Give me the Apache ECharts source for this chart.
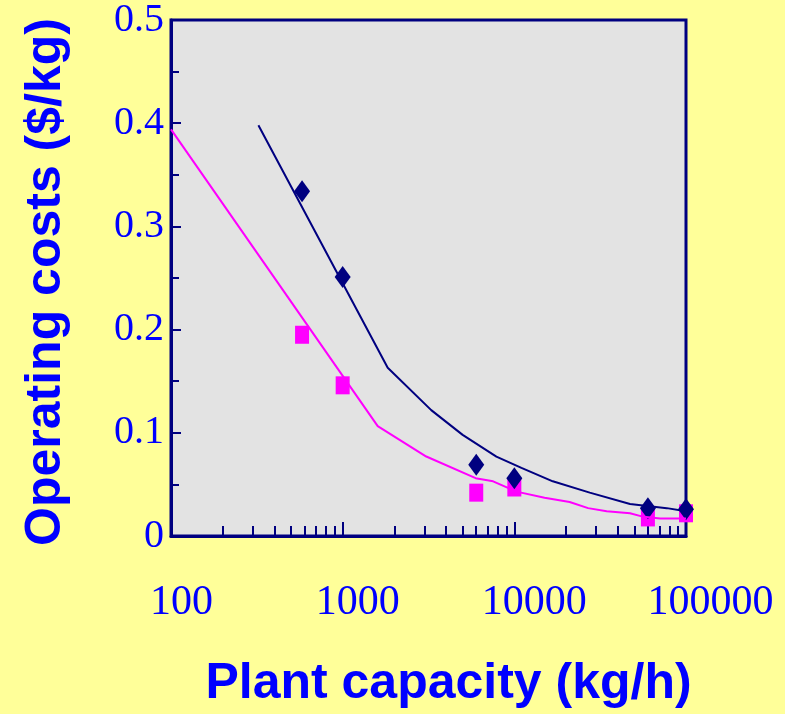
<!DOCTYPE html>
<html lang="en">
<head>
    <meta charset="UTF-8">
    <title>Operating costs</title>
    <script src="https://cdn.jsdelivr.net/npm/echarts@6/dist/echarts.min.js"></script>
    <style>
        *{
            margin: 0;
            padding: 0;
        }
        body{
            background-color: #FFFF99;
            overflow: hidden;
        }
        #main{
            width: 785px;
            height: 714px;
        }
    </style>
</head>
<body>
<div id="main"></div>
<script>
    // measured points (kg/h vs $/kg)
    var capacity = [580, 1000, 6000, 10000, 60000, 100000];
    var costDiamond = [0.334, 0.251, 0.069, 0.056, 0.027, 0.026];
    var costSquare = [0.195, 0.146, 0.042, 0.047, 0.018, 0.022];

    // fitted curves
    var navyLineX = [323, 1830, 3280, 5000, 7860, 11000, 16750, 27500, 47200, 77300, 100000];
    var navyLineY = [0.398, 0.163, 0.122, 0.098, 0.077, 0.066, 0.053, 0.042, 0.031, 0.027, 0.024];
    var pinkLineX = [100, 1600, 3070, 5950, 7520, 10300, 15000, 21000, 26900, 34500, 47200, 55200, 70600, 100000];
    var pinkLineY = [0.394, 0.1065, 0.077, 0.056, 0.053, 0.043, 0.037, 0.033, 0.027, 0.024, 0.022, 0.019, 0.017, 0.017];

    // axis ticks
    var xMajor = [100, 1000, 10000, 100000];
    var xMinor = [];
    for (var d = 0; d < xMajor.length - 1; d++) {
        for (var m = 2; m <= 9; m++) {
            xMinor.push(xMajor[d] * m);
        }
    }

    function pairs(xs, ys) {
        var out = [];
        for (var i = 0; i < xs.length; i++) {
            out.push([xs[i], ys[i]]);
        }
        return out;
    }

    var navy = '#000080';
    var blue = '#0000ff';
    var serif = '"Liberation Serif", "Times New Roman", serif';
    var sans = '"Liberation Sans", Arial, sans-serif';

    // labels in the original sit a little right of their decade ticks
    var labelShift = {100: 21, 1000: 30, 10000: 40, 100000: 49};
    var labelRich = {};
    for (var k in labelShift) {
        labelRich['p' + k] = {padding: [0, 0, 0, labelShift[k]]};
    }

    var myChart = echarts.init(document.getElementById('main'));

    var option = {
        backgroundColor: '#FFFF99',
        animation: false,
        grid: {
            left: 171,
            right: 99,
            top: 20,
            bottom: 178,
            show: true,
            backgroundColor: '#E3E3E3',
            borderColor: navy,
            borderWidth: 3
        },
        xAxis: [
            {
                type: 'log',
                logBase: 10,
                min: 100,
                max: 100000,
                name: 'Plant capacity (kg/h)',
                nameLocation: 'middle',
                nameGap: 123,
                nameTextStyle: {
                    color: blue,
                    fontSize: 50,
                    fontWeight: 'bold',
                    fontFamily: sans,
                    padding: [0, 0, 0, 40]
                },
                axisLine: {show: true, lineStyle: {color: navy, width: 3}},
                axisTick: {
                    show: true,
                    inside: true,
                    length: 10,
                    customValues: xMinor,
                    lineStyle: {color: navy, width: 2}
                },
                axisLabel: {
                    customValues: xMajor,
                    margin: 46,
                    color: blue,
                    fontSize: 42,
                    fontFamily: serif,
                    formatter: function (v) {
                        var key = Math.round(v);
                        return '{p' + key + '|' + key + '}';
                    },
                    rich: labelRich
                },
                splitLine: {show: false}
            },
            {
                // longer ticks at the decades
                type: 'log',
                logBase: 10,
                min: 100,
                max: 100000,
                position: 'bottom',
                axisLine: {show: false},
                axisLabel: {show: false},
                axisTick: {
                    show: true,
                    inside: true,
                    length: 14,
                    customValues: xMajor,
                    lineStyle: {color: navy, width: 2}
                },
                splitLine: {show: false}
            }
        ],
        yAxis: {
            type: 'value',
            min: 0,
            max: 0.5,
            interval: 0.1,
            name: 'Operating costs ($/kg)',
            nameLocation: 'middle',
            nameRotate: 90,
            nameGap: 100,
            nameTextStyle: {
                color: blue,
                fontSize: 50,
                fontWeight: 'bold',
                fontFamily: sans,
                padding: [0, 8, 0, 0]
            },
            axisLine: {show: true, lineStyle: {color: navy, width: 3}},
            axisTick: {show: true, inside: true, length: 10, lineStyle: {color: navy, width: 2}},
            minorTick: {show: true, splitNumber: 2, length: 8, lineStyle: {color: navy, width: 2}},
            axisLabel: {
                margin: 7,
                color: blue,
                fontSize: 40,
                fontFamily: serif,
                padding: [7, 0, 0, 0]
            },
            splitLine: {show: false}
        },
        series: [
            {
                type: 'line',
                data: pairs(navyLineX, navyLineY),
                symbol: 'none',
                lineStyle: {color: navy, width: 2}
            },
            {
                type: 'line',
                data: pairs(pinkLineX, pinkLineY),
                symbol: 'none',
                lineStyle: {color: '#ff00ff', width: 2}
            },
            {
                type: 'scatter',
                data: pairs(capacity, costSquare),
                symbol: 'rect',
                symbolSize: [14, 18],
                itemStyle: {color: '#ff00ff', opacity: 1}
            },
            {
                type: 'scatter',
                data: pairs(capacity, costDiamond),
                symbol: 'diamond',
                symbolSize: [16, 22],
                itemStyle: {color: navy, opacity: 1}
            }
        ]
    };

    myChart.setOption(option);
</script>
</body>
</html>
